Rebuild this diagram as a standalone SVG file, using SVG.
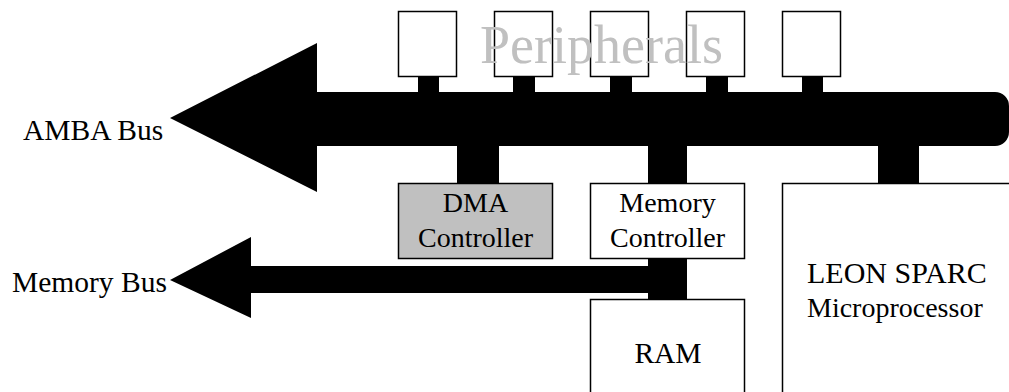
<svg xmlns="http://www.w3.org/2000/svg" width="1009" height="392" viewBox="0 0 1009 392">
<style>
.box{fill:#ffffff;stroke:#000000;stroke-width:1.5}
.dma{fill:#c0c0c0;stroke:#000000;stroke-width:1.5}
.bus{fill:#000000;stroke:none}
.t{font-family:"Liberation Serif","Times New Roman",serif;font-size:28px;fill:#000000}
.c{text-anchor:middle}
.lbl{font-family:"Liberation Serif","Times New Roman",serif;font-size:29.5px;fill:#000000}
.per{font-family:"Liberation Serif","Times New Roman",serif;font-size:54px;fill:#c0c0c0}
</style>
<g id="connectors">
<path class="bus" d="M170,118 L317,43 L317,92 L995,92 A14,14 0 0 1 1009,106 L1009,132 A14,14 0 0 1 995,146 L317,146 L317,192 Z"/>
<rect class="bus" x="418" y="76" width="21" height="17"/>
<rect class="bus" x="513" y="76" width="22" height="17"/>
<rect class="bus" x="610" y="76" width="22" height="17"/>
<rect class="bus" x="706" y="76" width="22" height="17"/>
<rect class="bus" x="802" y="76" width="21" height="17"/>
<rect class="bus" x="457" y="145" width="42" height="39"/>
<rect class="bus" x="648" y="145" width="39" height="39"/>
<rect class="bus" x="878" y="145" width="41" height="39"/>
<path class="bus" d="M170,280 L251,237 L251,266 L648,266 L648,258 L687,258 L687,300 L648,300 L648,293 L251,293 L251,318 Z"/>
</g>
<g id="p1"><rect class="box" x="398.5" y="11.5" width="58" height="65"/></g>
<g id="p2"><rect class="box" x="494.5" y="11.5" width="58" height="65"/></g>
<g id="p3"><rect class="box" x="590.5" y="11.5" width="58" height="65"/></g>
<g id="p4"><rect class="box" x="686.5" y="11.5" width="58" height="65"/></g>
<g id="p5"><rect class="box" x="782.5" y="11.5" width="58" height="65"/></g>
<g id="peripherals-label"><text class="per" x="480" y="63">Peripherals</text></g>
<g id="amba-label"><text class="lbl" x="23" y="140">AMBA Bus</text></g>
<g id="membus-label"><text class="lbl" x="12" y="292">Memory Bus</text></g>
<g id="dma">
<rect class="dma" x="398.5" y="183.5" width="154" height="75"/>
<text class="t c" x="475.5" y="212">DMA</text>
<text class="t c" x="475.5" y="247">Controller</text>
</g>
<g id="memctrl">
<rect class="box" x="590.5" y="183.5" width="154" height="75"/>
<text class="t c" x="667.5" y="212">Memory</text>
<text class="t c" x="667.5" y="247">Controller</text>
</g>
<g id="ram">
<rect class="box" x="590.5" y="299.5" width="154" height="100"/>
<text class="t c" x="668" y="363" style="font-size:29.5px">RAM</text>
</g>
<g id="leon">
<rect class="box" x="782.5" y="183.5" width="240" height="220"/>
<text class="t" x="807" y="283" style="font-size:30px">LEON SPARC</text>
<text class="t" x="807" y="317">Microprocessor</text>
</g>
</svg>
